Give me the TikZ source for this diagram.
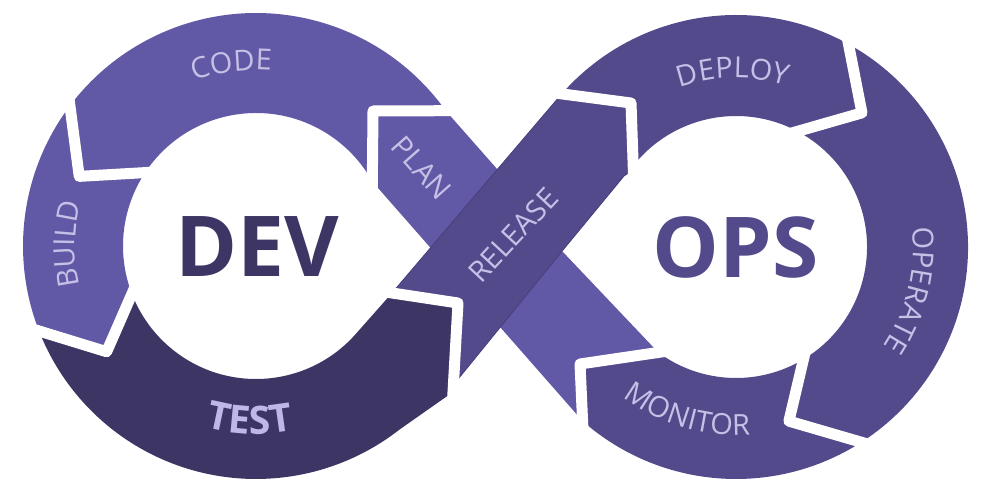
\documentclass[tikz,border=0pt]{standalone}
\usepackage{fontspec}
\setmainfont{Open Sans}
\usetikzlibrary{calc,decorations.text}
\definecolor{lightp}{RGB}{98,89,166}
\definecolor{midp}{RGB}{82,74,139}
\definecolor{darkp}{RGB}{61,54,100}
\definecolor{lblc}{RGB}{197,192,230}
\definecolor{testc}{RGB}{190,184,230}
\definecolor{relline}{RGB}{70,63,122}
\newcommand\lblfont{\fontsize{29}{29}\selectfont\color{lblc}}
\newcommand\testfont{\fontsize{39}{39}\selectfont\bfseries\color{testc}}
\begin{document}
\begin{tikzpicture}[x=1pt,y=-1pt,
  gapline/.style={draw=white,line width=11pt,line join=round},
  bigword/.style={font=\fontsize{84}{84}\selectfont\bfseries,inner sep=0pt},
  bandlabel/.style={font=\lblfont,inner sep=0pt},
  arclabel/.style={decorate,decoration={text along path,text={|\lblfont|#1},text align=center}},
  testlabel/.style={decorate,decoration={text along path,text={|\testfont|#1},text align=center}}]
\useasboundingbox (0,0) rectangle (1000,500);
% centres
\coordinate (C1) at (256,246);
\coordinate (C2) at (736,247);
% left ring chevrons
\coordinate (O1) at ($(C1)+(-35.5:233)$);
\coordinate (V1) at (373,111);
\coordinate (I1) at ($(C1)+(-29:133)$);
\coordinate (O2) at ($(C1)+(-143:233)$);
\coordinate (V2) at ($(C1)+(-158.5:190)$);
\coordinate (I2) at ($(C1)+(-146.5:133)$);
\coordinate (O5) at ($(C1)+(158.6:233)$);
\coordinate (V5) at ($(C1)+(144.7:183)$);
\coordinate (I5) at ($(C1)+(158.9:133)$);
\coordinate (O3) at (453,392);
\coordinate (V3) at (458,303);
\coordinate (I3) at (392,293);
\coordinate (T3) at ($(C1)+(41.4:133)$);
% right ring chevrons
\coordinate (O4) at ($(C2)+(-138.7:232)$);
\coordinate (V4) at (631,103);
\coordinate (I4) at ($(C2)+(-141.7:131)$);
\coordinate (O6) at ($(C2)+(-61:232)$);
\coordinate (V6) at ($(C2)+(-46.8:184)$);
\coordinate (I6) at ($(C2)+(-62:131)$);
\coordinate (O7) at ($(C2)+(57.3:232)$);
\coordinate (V7) at ($(C2)+(73.1:182)$);
\coordinate (I7) at ($(C2)+(59:131)$);
\coordinate (O8) at ($(C2)+(131.4:232)$);
\coordinate (V8) at (580,364);
\coordinate (I8) at ($(C2)+(126.4:131)$);
% band helper points
\coordinate (LB1) at (497.4,169.4);
\coordinate (LB2) at (562,251);
\coordinate (RB1) at (633,170);
\coordinate (RB2) at (624,176);
\coordinate (RB3) at (563,250);
\coordinate (RB4) at (459,378);

% CODE
\fill[lightp] (O1) arc[start angle=-35.5,end angle=-143,radius=233] -- (V2) -- (I2)
  arc[start angle=-146.5,end angle=-29,radius=133] -- (V1) -- cycle;
% BUILD
\fill[lightp] (O2) arc[start angle=-143,end angle=-201.4,radius=233] -- (V5) -- (I5)
  arc[start angle=-201.1,end angle=-146.5,radius=133] -- (V2) -- cycle;
% TEST
\fill[darkp] (O5) arc[start angle=158.6,end angle=52,radius=233] -- (O3) -- (V3) -- (I3) -- (T3)
  arc[start angle=41.4,end angle=158.9,radius=133] -- (V5) -- cycle;
% DEPLOY
\fill[midp] (O4) arc[start angle=-138.7,end angle=-61,radius=232] -- (V6) -- (I6)
  arc[start angle=-62,end angle=-141.7,radius=131] -- (V4) -- cycle;
% OPERATE
\fill[midp] (O6) arc[start angle=-61,end angle=57.3,radius=232] -- (V7) -- (I7)
  arc[start angle=59,end angle=-62,radius=131] -- (V6) -- cycle;
% MONITOR
\fill[midp] (O7) arc[start angle=57.3,end angle=131.4,radius=232] -- (V8) -- (I8)
  arc[start angle=126.4,end angle=59,radius=131] -- (V7) -- cycle;
% PLAN band
\fill[lightp] (V1) -- (O1) -- (LB1) -- (LB2) -- (I8) -- (V8) -- (O8) -- (I1) -- cycle;
% RELEASE band
\filldraw[fill=midp,draw=relline,line width=0.8pt,line join=round]
  (I3) -- (O4) -- (V4) -- (RB1) -- (RB2) -- (RB3) -- (RB4) -- (O3) -- (V3) -- cycle;

% white gaps
\draw[gapline] ($(V1)!1.3!(O1)$) -- (V1) -- ($(V1)!1.3!(I1)$);
\draw[gapline] ($(V2)!1.3!(O2)$) -- (V2) -- ($(V2)!1.3!(I2)$);
\draw[gapline] ($(V5)!1.3!(O5)$) -- (V5) -- ($(V5)!1.25!(I5)$);
\draw[gapline] ($(V3)!1.3!(O3)$) -- (V3) -- ($(V3)!1.3!(I3)$);
\draw[gapline] ($(V4)!1.3!(O4)$) -- (V4) -- ($(V4)!1.3!(I4)$);
\draw[gapline] ($(V6)!1.3!(O6)$) -- (V6) -- ($(V6)!1.3!(I6)$);
\draw[gapline] ($(V7)!1.3!(O7)$) -- (V7) -- ($(V7)!1.3!(I7)$);
\draw[gapline] ($(V8)!1.3!(O8)$) -- (V8) -- ($(V8)!1.3!(I8)$);

% centre words
\node[bigword,text=darkp] (dev) at (257.5,247) {DEV};
\node[bigword,text=midp] (ops) at (735.5,247) {OPS};

% labels on the rings
\path[arclabel=CODE] ($(C1)+(-140:176)$) arc[start angle=-140,end angle=-55.4,radius=176];
\path[arclabel=BUILD] ($(C1)+(140.6:181)$) arc[start angle=140.6,end angle=220.6,radius=181];
\path[testlabel=TEST] ($(C1)+(132:188)$) arc[start angle=132,end angle=52,radius=188];
\path[arclabel=DEPLOY] ($(C2)+(-131:169)$) arc[start angle=-131,end angle=-51,radius=169];
\path[arclabel=OPERATE] ($(C2)+(-31.1:177.5)$) arc[start angle=-31.1,end angle=58.9,radius=177.5];
\path[arclabel=MONITOR] ($(C2)+(146.3:188)$) arc[start angle=146.3,end angle=66.3,radius=188];

% labels on the bands
\node[bandlabel,rotate=-48.5] (plan) at (421.5,168) {PLAN};
\node[bandlabel,rotate=47] (release) at (513,235) {RELEASE};
\end{tikzpicture}
\end{document}
